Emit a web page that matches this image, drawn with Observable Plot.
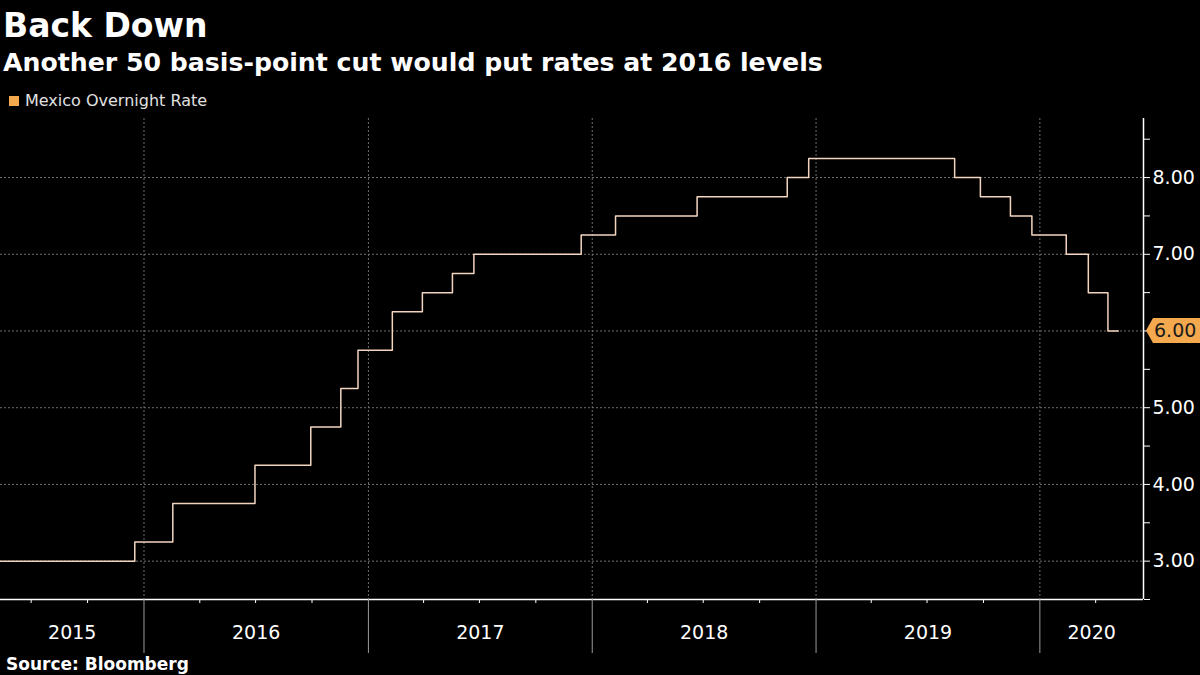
<!DOCTYPE html>
<html><head><meta charset="utf-8">
<script src="https://cdn.jsdelivr.net/npm/d3@7"></script>
<script src="https://cdn.jsdelivr.net/npm/@observablehq/plot@0.6"></script>
<style>
html,body{margin:0;padding:0;background:#000;}
body{width:1200px;height:675px;position:relative;overflow:hidden;font-family:"DejaVu Sans",sans-serif;}
.t{position:absolute;white-space:nowrap;}
#title{left:3px;top:9px;font-size:33px;line-height:33px;font-weight:bold;color:#fff;}
#subtitle{left:3px;top:50px;font-size:25.2px;line-height:25px;font-weight:bold;color:#fff;}
#legend{left:9px;top:93px;font-size:16px;line-height:16px;color:#e0e0e0;}
#legend .sw{display:inline-block;width:10px;height:10px;background:#f4a94f;margin-right:6px;vertical-align:0px;}
#source{left:6px;top:656px;font-size:17px;line-height:17px;font-weight:bold;color:#fff;}
#chart{position:absolute;left:0;top:115px;}
</style></head><body>
<div class="t" id="title">Back Down</div>
<div class="t" id="subtitle">Another 50 basis-point cut would put rates at 2016 levels</div>
<div class="t" id="legend"><span class="sw"></span>Mexico Overnight Rate</div>
<div id="chart"></div>
<div class="t" id="source">Source: Bloomberg</div>
<script>
// Mexico overnight rate: date of each change and the new level
const changeDates = ["2015-05-12","2015-12-17","2016-02-17","2016-06-30","2016-09-29","2016-11-17","2016-12-15",
  "2017-02-09","2017-03-30","2017-05-18","2017-06-22","2017-12-14","2018-02-08","2018-06-21","2018-11-15",
  "2018-12-20","2019-08-15","2019-09-26","2019-11-14","2019-12-19","2020-02-13","2020-03-20","2020-04-21","2020-05-08"];
const rates = [3.00,3.25,3.75,4.25,4.75,5.25,5.75,6.25,6.50,6.75,7.00,7.25,7.50,7.75,8.00,8.25,8.00,7.75,7.50,7.25,7.00,6.50,6.00,6.00];
const yearStarts = ["2016-01-01","2017-01-01","2018-01-01","2019-01-01","2020-01-01"];
const yearLabels = ["2015","2016","2017","2018","2019","2020"];
const yTicks = [3,4,5,6,7,8];
const yMinorTicks = [2.5,3.5,4.5,5.5,6.5,7.5,8.5];
const xDomain = ["2015-05-12","2020-06-18"];
const yDomain = [2.5, 8.77];
const lastLabel = "6.00";

const series = changeDates.map((d,i)=>({date:new Date(d), rate:rates[i]}));
const lastRate = rates[rates.length-1];
const xDom = xDomain.map(d=>new Date(d));
const ys = yearStarts.map(d=>new Date(d));
const bounds = [xDom[0], ...ys, xDom[1]];
const yearMids = yearLabels.map((l,i)=>({label:l, date:new Date((+bounds[i] + +bounds[i+1])/2)}));
const quarterDates = d3.utcMonth.every(3).range(xDom[0], xDom[1]).filter(d=>d.getUTCMonth()!==0);

const chart = Plot.plot({
  width:1200, height:542,
  marginTop:3, marginBottom:58, marginLeft:0, marginRight:57,
  style:{background:"#000", color:"#fff", fontFamily:"DejaVu Sans, sans-serif", fontSize:"19px", overflow:"visible"},
  x:{type:"utc", domain:xDom},
  y:{domain:yDomain},
  marks:[
    Plot.ruleY(yTicks, {stroke:"#707070", strokeDasharray:"2,2", strokeWidth:1}),
    Plot.ruleX(ys, {stroke:"#707070", strokeDasharray:"2,2", strokeWidth:1}),
    Plot.line(series, {x:"date", y:"rate", curve:"step-after", stroke:"#f3d5bf", strokeWidth:1.5}),
    Plot.ruleY([yDomain[0]], {stroke:"#fff", strokeWidth:1.5}),
    Plot.ruleX([xDom[1]], {stroke:"#fff", strokeWidth:1.5}),
    Plot.axisX({ticks:ys, tickSize:54, tickFormat:()=>"", color:"#9a9a9a", label:null}),
    Plot.axisX({ticks:quarterDates, tickSize:4, tickFormat:()=>"", color:"#fff", label:null}),
    Plot.text(yearMids, {x:"date", text:"label", frameAnchor:"bottom", dy:39, fill:"#fff", fontSize:19}),
    Plot.axisY({anchor:"right", ticks:yTicks, tickSize:6, tickPadding:3, tickFormat:d=>d===lastRate ? "" : d.toFixed(2), label:null, fontSize:19, color:"#fff"}),
    Plot.axisY({anchor:"right", ticks:yMinorTicks, tickSize:6, tickFormat:()=>"", label:null, color:"#fff"})
  ]
});
document.getElementById("chart").appendChild(chart);

// last-value flag on the right axis
const yS = chart.scale("y"), xS = chart.scale("x");
const yv = yS.apply(lastRate);
const xv = xS.apply(xDom[1]);
const svg = d3.select(chart);
const g = svg.append("g");
g.append("path")
  .attr("d", `M${xv+3},${yv} L${xv+10},${yv-12.5} L1200,${yv-12.5} L1200,${yv+12.5} L${xv+10},${yv+12.5} Z`)
  .attr("fill", "#f5a94e");
g.append("text").attr("x", xv+11).attr("y", yv).attr("dy", "0.36em")
  .attr("text-anchor", "start")
  .attr("font-size", 19).attr("fill", "#1a1a1a").text(lastLabel);
</script>
</body></html>
